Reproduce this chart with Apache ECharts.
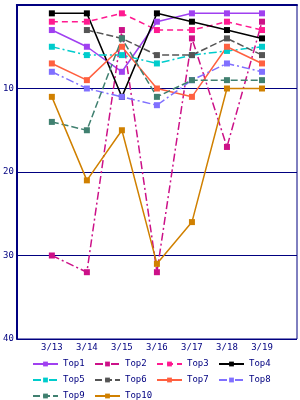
<!DOCTYPE html>
<html>
<head>
<meta charset="utf-8">
<script src="https://cdn.jsdelivr.net/npm/echarts@6/dist/echarts.min.js"></script>
<style>
html,body{margin:0;padding:0;background:#fff;}
#chart{width:300px;height:400px;}
</style>
</head>
<body>
<div id="chart"></div>
<script>
const categories = ['3/13','3/14','3/15','3/16','3/17','3/18','3/19'];
const yTicks = [0, 10, 20, 30, 40];
const top1  = [3, 5, 8, 2, 1, 1, 1];
const top2  = [30, 32, 3, 32, 4, 17, 2];
const top3  = [2, 2, 1, 3, 3, 2, 3];
const top4  = [1, 1, 11, 1, 2, 3, 4];
const top5  = [5, 6, 6, 7, 6, 5.5, 5];
const top6  = [null, 3, 4, 6, 6, 4, 6];
const top7  = [7, 9, 5, 10, 11, 5, 7];
const top8  = [8, 10, 11, 12, 9, 7, 8];
const top9  = [14, 15, 4, 11, 9, 9, 9];
const top10 = [11, 21, 15, 31, 26, 10, 10];
const names = ['Top1','Top2','Top3','Top4','Top5','Top6','Top7','Top8','Top9','Top10'];
const values = [top1, top2, top3, top4, top5, top6, top7, top8, top9, top10];

const colors = ['#a040f0','#cc1188','#ff1a90','#000000','#00cccc','#555555','#ff6040','#8070ff','#408070','#d08000'];
const dashDot = [8, 3, 2, 3];
const dashed = [6, 4];
const lineTypes = ['solid', dashDot, dashed, 'solid', dashDot, [7, 3], 'solid', dashDot, [7, 3], 'solid'];

const NAVY = '#000080';
const FONT = 'DejaVu Sans Mono';
const xData = [''].concat(categories, ['']);

const series = names.map((n, i) => ({
  name: n,
  type: 'line',
  data: [null].concat(values[i], [null]),
  symbol: 'rect',
  symbolSize: 6,
  showSymbol: true,
  connectNulls: false,
  animation: false,
  itemStyle: { color: colors[i] },
  lineStyle: { color: colors[i], width: 1.5, type: lineTypes[i] }
}));

const chart = echarts.init(document.getElementById('chart'), null, { renderer: 'canvas' });
chart.setOption({
  animation: false,
  color: colors,
  grid: {
    left: 15, right: 1, top: 5, bottom: 61,
    show: true, borderColor: NAVY, borderWidth: 1, containLabel: false
  },
  xAxis: {
    type: 'category',
    data: xData,
    boundaryGap: false,
    axisLine: { show: true, lineStyle: { color: NAVY, width: 2 } },
    axisTick: { show: false },
    splitLine: { show: false },
    axisLabel: { color: NAVY, fontFamily: FONT, fontSize: 9, margin: 4, interval: 0 }
  },
  yAxis: {
    type: 'value',
    inverse: true,
    min: yTicks[0],
    max: yTicks[yTicks.length - 1],
    interval: 10,
    axisLine: { show: true, lineStyle: { color: NAVY, width: 2 } },
    axisTick: { show: false },
    splitLine: { show: true, lineStyle: { color: NAVY, width: 1 } },
    axisLabel: {
      color: NAVY, fontFamily: FONT, fontSize: 9, margin: 3,
      formatter: v => (v === 0 ? '' : String(v))
    }
  },
  legend: {
    data: names,
    left: 32,
    top: 356,
    width: 265,
    itemWidth: 25,
    itemHeight: 6,
    itemGap: 0,
    padding: 0,
    textStyle: { color: NAVY, fontFamily: FONT, fontSize: 9, width: 31, height: 16, lineHeight: 16, padding: [0, 0, 0, 0] },
    inactiveColor: '#ccc'
  },
  series: series
});
</script>
</body>
</html>
